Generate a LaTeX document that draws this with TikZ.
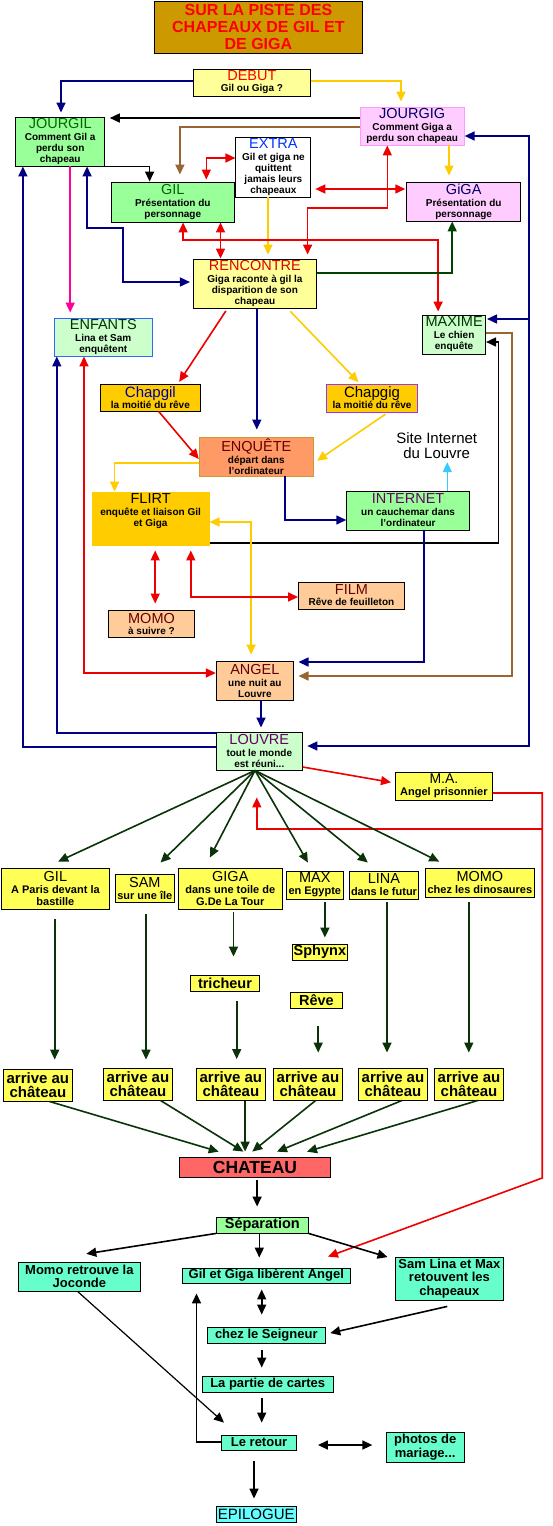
\documentclass[tikz,border=0pt]{standalone}
\usepackage{fontspec}
\setmainfont{Liberation Sans}
\usetikzlibrary{arrows.meta}
% fills
\definecolor{titlebg}{HTML}{CC9900}
\definecolor{titlered}{HTML}{FF0000}
\definecolor{lyel}{HTML}{FFFF99}
\definecolor{lgreen}{HTML}{99FF99}
\definecolor{lpink}{HTML}{FFCCFF}
\definecolor{mpink}{HTML}{FF99FF}
\definecolor{vlgreen}{HTML}{CCFFCC}
\definecolor{eblue}{HTML}{3366FF}
\definecolor{gold}{HTML}{FFCC00}
\definecolor{cpurple}{HTML}{9933FF}
\definecolor{corange}{HTML}{FF9966}
\definecolor{cgoldb}{HTML}{CC9933}
\definecolor{peach}{HTML}{FFCC99}
\definecolor{fyel}{HTML}{FFFF55}
\definecolor{chred}{HTML}{FF6666}
\definecolor{aqua}{HTML}{66FFCC}
\definecolor{cyanf}{HTML}{66FFFF}
% text
\definecolor{cred}{HTML}{FF0000}
\definecolor{hgreen}{HTML}{006600}
\definecolor{hnavy}{HTML}{000066}
\definecolor{hblue}{HTML}{0033FF}
\definecolor{hredb}{HTML}{DD0000}
\definecolor{hdgreen}{HTML}{003300}
\definecolor{hnavyb}{HTML}{000099}
\definecolor{hdred}{HTML}{660000}
\definecolor{hpurple}{HTML}{660066}
% lines
\definecolor{navyc}{HTML}{000080}
\definecolor{yelc}{HTML}{FFCC00}
\definecolor{redc}{HTML}{EE0000}
\definecolor{brownc}{HTML}{996633}
\definecolor{pinkc}{HTML}{FF0099}
\definecolor{dgreen}{HTML}{0A330A}
\definecolor{dgreenb}{HTML}{004400}
\definecolor{cyanc}{HTML}{33CCFF}
\newcommand\hdf{\fontsize{14.5}{16}\selectfont\mdseries}
\newcommand\smf{\fontsize{10}{11}\selectfont\bfseries}
\begin{document}
\begin{tikzpicture}[x=1pt,y=-1pt,
  box/.style={draw=black,line width=0.9pt,inner sep=0pt,align=center,font=\smf},
  sz/.style 2 args={minimum width=#1pt,minimum height=#2pt},
  fs/.style={font=\fontsize{11}{12}\selectfont\bfseries},
  ly/.style={box,fill=fyel,font=\fontsize{14.5}{14}\selectfont\bfseries},
  av/.style={box,fill=fyel,font=\fontsize{15}{14}\selectfont\bfseries,sz={69}{32}},
  bt/.style={box,fill=aqua,font=\fontsize{13}{13.5}\selectfont\bfseries},
  >={Triangle[length=10pt,width=9pt]},
  arr/.style={line width=1.6pt,->},
  darr/.style={line width=1.6pt,<->}]
\useasboundingbox (0,0) rectangle (553,1526);
\fill[white] (0,0) rectangle (553,1526);

% ---------- nodes ----------
\node[box,sz={208}{52},fill=titlebg,font=\bfseries\fontsize{16}{16.7}\selectfont,text=titlered] (title) at (258.4,27) {SUR LA PISTE DES\\CHAPEAUX DE GIL ET\\DE GIGA};
\node[box,sz={117}{27},fill=lyel] (debut) at (251.9,82.5) {{\hdf\color{cred}DEBUT}\\Gil ou Giga ?};
\node[box,sz={89.3}{49},fill=lgreen] (jourgil) at (60.2,141.5) {{\hdf\color{hgreen}JOURGIL}\\[1pt]Comment Gil a\\perdu son\\chapeau};
\node[box,sz={104}{38},fill=lpink,draw=mpink] (jourgig) at (412.2,126) {{\hdf\color{hnavy}JOURGIG}\\[1pt]Comment Giga a\\perdu son chapeau};
\node[box,sz={75}{60},fill=white] (extra) at (273.4,167) {{\hdf\color{hblue}EXTRA}\\[1pt]Gil et giga ne\\quittent\\jamais leurs\\chapeaux};
\node[box,sz={122.7}{40},fill=lgreen] (gil) at (172.8,202) {{\hdf\color{hgreen}GIL}\\[1pt]Présentation du\\personnage};
\node[box,sz={114}{39},fill=lpink] (giga) at (463.7,201.5) {{\hdf\color{hnavy}GiGA}\\[1pt]Présentation du\\personnage};
\node[box,sz={123}{49},fill=lyel] (rencontre) at (254.9,283.5) {{\hdf\color{hredb}RENCONTRE}\\[1pt]Giga raconte à gil la\\disparition de son\\chapeau};
\node[box,sz={98}{38},fill=vlgreen,draw=eblue] (enfants) at (103.3,337) {{\hdf\color{hdgreen}ENFANTS}\\[1pt]Lina et Sam\\enquêtent};
\node[box,sz={63}{39},fill=vlgreen] (maxime) at (454.1,334.5) {{\hdf\color{hdgreen}MAXIME}\\[1pt]Le chien\\enquête};
\node[box,sz={100}{27},fill=gold] (chapgil) at (150.4,397.5) {{\fontsize{15}{16}\selectfont\mdseries\color{hnavyb}Chapgil}\\la moitié du rêve};
\node[box,sz={91.3}{28},fill=gold,draw=cpurple] (chapgig) at (372,398) {{\fontsize{15}{16}\selectfont\mdseries Chapgig}\\la moitié du rêve};
\node[box,sz={114}{39},fill=corange,draw=cgoldb] (enquete) at (256.3,456.5) {{\hdf\color{hdred}ENQUÊTE}\\[1pt]départ dans\\l’ordinateur};
\node[box,sz={117}{53},fill=gold,draw=gold] (flirt) at (150.6,518.5) {};
\node[align=center,inner sep=0pt,font=\smf] (flirttxt) at (150.6,511.5) {{\hdf FLIRT}\\[1pt]enquête et liaison Gil\\et Giga};
\node[box,sz={122.8}{39},fill=lgreen] (internet) at (408.1,510.5) {{\hdf\color{hpurple}INTERNET}\\[1pt]un cauchemar dans\\l’ordinateur};
\node[align=center,inner sep=0pt,font=\fontsize{15}{15}\selectfont] (siteint) at (436.7,446) {Site Internet\\du Louvre};
\node[box,sz={106}{27},fill=peach] (film) at (351.5,595.5) {{\hdf\color{hdred}FILM}\\Rêve de feuilleton};
\node[box,sz={86.4}{27},fill=peach] (momo) at (151.5,623.5) {{\hdf\color{hdred}MOMO}\\à suivre ?};
\node[box,sz={77.3}{39},fill=peach] (angel) at (254.9,680.5) {{\hdf\color{hdred}ANGEL}\\[1pt]une nuit au\\Louvre};
\node[box,sz={86}{38},fill=vlgreen] (louvre) at (259.3,751) {{\hdf\color{hpurple}LOUVRE}\\[1pt]tout le monde\\est réuni...};
\node[box,fs,sz={97}{28},fill=fyel] (ma) at (443.9,786) {{\fontsize{14}{15}\selectfont\mdseries M.A.}\\Angel prisonnier};

\node[box,fs,sz={108}{41},fill=fyel] (gil2) at (55.4,888.5) {{\hdf GIL}\\[0.5pt]A Paris devant la\\bastille};
\node[box,fs,sz={59}{28},fill=fyel] (sam) at (144.8,888) {{\hdf SAM}\\sur une île};
\node[box,fs,sz={103.7}{41},fill=fyel] (giga2) at (230.3,888.5) {{\hdf GIGA}\\[0.5pt]dans une toile de\\G.De La Tour};
\node[box,fs,sz={56.8}{28},fill=fyel] (max) at (314.8,885) {{\hdf MAX}\\en Egypte};
\node[box,fs,sz={68.8}{28},fill=fyel] (lina) at (384,885) {{\hdf LINA}\\dans le futur};
\node[box,fs,sz={109}{29},fill=fyel] (momo2) at (479.9,882.5) {{\hdf MOMO}\\chez les dinosaures};
\node[ly,sz={55}{16}] (sphynx) at (319.9,952) {Sphynx};
\node[ly,sz={69}{16}] (tricheur) at (225,983) {tricheur};
\node[ly,sz={52}{16}] (reve) at (316.4,1000) {Rêve};
\node[av] (arr1) at (37.9,1085) {arrive au\\château};
\node[av] (arr2) at (138,1084) {arrive au\\château};
\node[av] (arr3) at (230.9,1084.5) {arrive au\\château};
\node[av] (arr4) at (308,1084) {arrive au\\château};
\node[av] (arr5) at (393,1084) {arrive au\\château};
\node[av] (arr6) at (469,1084) {arrive au\\château};
\node[box,sz={151}{20},fill=chred,font=\fontsize{17.5}{18}\selectfont\bfseries] (chateau) at (255,1167) {CHATEAU};
\node[bt,sz={92}{16},fill=lgreen,font=\fontsize{14.5}{15}\selectfont\bfseries] (sep) at (262.3,1225) {Séparation};
\node[bt,sz={122}{29}] (momoret) at (79.4,1276.5) {Momo retrouve la\\Joconde};
\node[bt,sz={168}{15}] (gilgiga) at (266.3,1275.5) {Gil et Giga libèrent Angel};
\node[bt,sz={108}{43}] (samlina) at (449.4,1278.5) {Sam Lina et Max\\retouvent les\\chapeaux};
\node[bt,sz={117.8}{16}] (chez) at (266.3,1335) {chez le Seigneur};
\node[bt,sz={131}{16}] (partie) at (267.7,1384) {La partie de cartes};
\node[bt,sz={74.4}{15}] (retour) at (259.1,1442.5) {Le retour};
\node[bt,sz={78}{30}] (photos) at (425.2,1447) {photos de\\mariage...};
\node[box,sz={80}{16},fill=cyanf,font=\fontsize{15}{15}\selectfont] (epilogue) at (256.3,1514) {EPILOGUE};

% ---------- connectors, upper part ----------
\draw[arr,navyc,shorten >=4pt] (debut.west |- 0,81) -| (jourgil.north -| 61,0);
\draw[arr,yelc,shorten >=5pt] (debut.east |- 0,81) -| (jourgig.north -| 401,0);
\draw[arr,black,shorten >=4.5pt] (jourgig.west |- 0,118) -- (jourgil.east |- 0,118);
\draw[arr,brownc,shorten >=7pt] (jourgig.west |- 0,127) -| (gil.north -| 179.9,0);
\draw[darr,redc,shorten <=2pt] (gil.north -| 206.3,0) |- (extra.west |- 0,158);
\draw[arr,black] (jourgil.south east) -| (gil.north -| 149.6,0);
\draw[arr,pinkc,shorten >=5pt] (jourgil.south -| 70.2,0) -- (enfants.north -| 70.2,0);
\draw[arr,navyc] (louvre.west |- 0,747) -| (jourgil.south -| 22.9,0);
\draw[arr,navyc] (louvre.west |- 0,733) -| (enfants.south -| 56.8,0);
\draw[darr,navyc,shorten >=3pt] (jourgil.south -| 87.1,0) -- (87.1,228) -- (123.1,228) -- (123.1,282) -- (rencontre.west |- 0,282);
\draw[darr,redc,shorten >=4pt] (jourgig.south -| 387.3,0) -- (387.3,208) -- (307.6,208) -- (rencontre.north -| 307.6,0);
\draw[arr,yelc,shorten >=4pt] (extra.south -| 268,0) -- (rencontre.north -| 268,0);
\draw[darr,redc,shorten <=4pt,shorten >=1pt] (extra.east |- 0,189) -- (giga.west |- 0,189);
\draw[arr,yelc,shorten >=6pt] (jourgig.south -| 449,0) -- (giga.north -| 449,0);
\coordinate (rtop) at (529.1,136);
\coordinate (rbot) at (529.1,746);
\coordinate (rmid) at (529.1,319);
\draw[darr,navyc,shorten >=4.6pt] (jourgig.east |- rtop) -- (rtop) -- (rbot) -- (louvre.east |- rbot);
\draw[arr,navyc,shorten >=1pt] (rmid) -- (maxime.east |- rmid);
\draw[darr,redc,shorten >=3pt] (gil.south -| 183.1,0) -- (183.1,240) -- (438.1,240) -- (maxime.north -| 438.1,0);
\draw[darr,redc] (gil.south -| 220.5,0) -- (rencontre.north -| 220.5,0);
\draw[arr,dgreenb] (rencontre.east |- 0,273) -| (giga.south -| 452.2,0);
\draw[arr,redc,shorten <=3pt,shorten >=2pt] (rencontre.south -| 227.5,0) -- (chapgil.north -| 178.1,0);
\draw[arr,navyc,shorten >=7pt] (rencontre.south -| 256.8,0) -- (enquete.north -| 256.8,0);
\draw[arr,yelc,shorten <=4pt,shorten >=2pt] (rencontre.south -| 287.5,0) -- (chapgig.north -| 359.8,0);
\draw[arr,redc] (chapgil.south -| 158.7,0) -- (enquete.west |- 0,459);
\draw[arr,yelc,shorten <=3pt,shorten >=4pt] (chapgig.south -| 388,0) -- (enquete.east |- 0,463);
\draw[arr,yelc] (enquete.west |- 0,463) -| (flirt.north -| 114.6,0);
\draw[arr,navyc] (enquete.south -| 285,0) |- (internet.west |- 0,520);
\draw[arr,cyanc,line width=1.3pt,shorten >=3pt] (internet.north -| 447.3,0) -- (siteint.south -| 447.3,0);
\draw[arr,black] (flirt.east |- 0,543) -- (498.4,543) -- (498.4,342) -- (maxime.east |- 0,342);
\draw[arr,navyc,shorten >=4.5pt] (internet.south -| 424,0) |- (angel.east |- 0,662);
\draw[arr,brownc,shorten >=4.5pt] (maxime.east |- 0,333) -- (512,333) -- (512,676) -- (angel.east |- 0,676);
\draw[darr,yelc,shorten >=6pt] (flirt.east |- 0,522) -| (angel.north -| 251.1,0);
\draw[darr,redc,shorten <=5pt,shorten >=6pt] (flirt.south -| 155.2,0) -- (momo.north -| 155.2,0);
\draw[darr,redc,shorten <=5pt] (flirt.south -| 190.8,0) |- (film.west |- 0,597);
\draw[darr,redc] (enfants.south -| 84,0) |- (angel.west |- 0,673);
\draw[arr,navyc,shorten >=4pt] (angel.south -| 261,0) -- (louvre.north -| 261,0);
\draw[arr,redc,shorten >=4pt] (louvre.east |- 0,767) -- (ma.west |- 0,783);
\draw[arr,redc,shorten >=31.7pt] (ma.east |- 0,793) -- (542.2,793) -- (542.2,1178) -- (gilgiga.north -| 298.2,0);
\coordinate (rj) at (542.2,829);
\draw[arr,redc,shorten >=27pt] (rj) -| (louvre.south -| 256.8,0);

% ---------- fan ----------
\foreach \n/\x/\s in {gil2/45.2/14.3pt, sam/149.2/15.8pt, giga2/204.7/11.3pt, max/312.5/9.2pt, lina/377.7/12.7pt, momo2/451.3/13.5pt}
  \draw[arr,dgreen,shorten >=\s] (louvre.south -| 255,0) -- (\n.north -| \x,0);
\draw[arr,dgreen,shorten <=10pt,shorten >=9pt] (gil2.south -| 54.7,0) -- (arr1.north -| 54.7,0);
\draw[arr,dgreen,shorten <=12pt,shorten >=8pt] (sam.south -| 146,0) -- (arr2.north -| 146,0);
\draw[arr,dgreen,shorten <=3pt,shorten >=18pt] (giga2.south -| 233.5,0) -- (tricheur.north -| 233.5,0);
\draw[arr,dgreen,shorten <=10pt,shorten >=9pt] (tricheur.south -| 236.7,0) -- (arr3.north -| 236.7,0);
\draw[arr,dgreen,shorten <=3pt,shorten >=6pt] (max.south -| 324.9,0) -- (sphynx.north -| 324.9,0);
\draw[arr,dgreen,shorten <=18pt,shorten >=15pt] (reve.south -| 318.2,0) -- (arr4.north -| 318.2,0);
\draw[arr,dgreen,shorten <=3pt,shorten >=15pt] (lina.south -| 387,0) -- (arr5.north -| 387,0);
\draw[arr,dgreen,shorten <=5pt,shorten >=15pt] (momo2.south -| 468.8,0) -- (arr6.north -| 468.8,0);
\foreach \a/\sx/\ex/\s in {arr1/49.4/235.3/17.3pt, arr2/160.5/251.4/9.4pt, arr3/245.1/245.1/5pt, arr4/315.7/246.1/7.9pt, arr5/402.1/264.9/13pt, arr6/478/290.5/17.2pt}
  \draw[arr,dgreen,shorten >=\s] (\a.south -| \sx,0) -- (chateau.north -| \ex,0);

% ---------- bottom ----------
\draw[arr,black,shorten <=3pt,shorten >=10pt] (chateau.south -| 257.1,0) -- (sep.north -| 257.1,0);
\draw[arr,black,shorten >=50pt] (sep.south west) -- (momoret.north -| 36.9,0);
\draw[arr,black,shorten >=10pt] (sep.south -| 259.3,0) -- (gilgiga.north -| 259.3,0);
\draw[arr,black,shorten >=7.7pt] (sep.south east) -- (samlina.west |- 0,1259.3);
\draw[darr,black,shorten <=6pt,shorten >=12pt] (gilgiga.south -| 261.7,0) -- (chez.north -| 261.7,0);
\draw[arr,black,shorten <=26.8pt,shorten >=4.7pt] (samlina.south -| 473.4,0) -- (chez.east |- 0,1334.1);
\draw[arr,black,shorten <=7pt,shorten >=8pt] (chez.south -| 261.7,0) -- (partie.north -| 261.7,0);
\draw[arr,black,line width=1.2pt,shorten >=17.9pt] (momoret.south -| 77.6,0) -- (retour.north -| 237.3,0);
\draw[arr,black,shorten >=10pt] (retour.west |- 0,1442) -| (gilgiga.south -| 196.5,0);
\draw[arr,black,shorten <=6pt,shorten >=12pt] (partie.south -| 261.7,0) -- (retour.north -| 261.7,0);
\draw[darr,black,shorten <=21.2pt,shorten >=13.4pt] (retour.east |- 0,1445) -- (photos.west |- 0,1445);
\draw[arr,black,shorten <=11pt,shorten >=7pt] (retour.south -| 254,0) -- (epilogue.north -| 254,0);
\end{tikzpicture}
\end{document}
